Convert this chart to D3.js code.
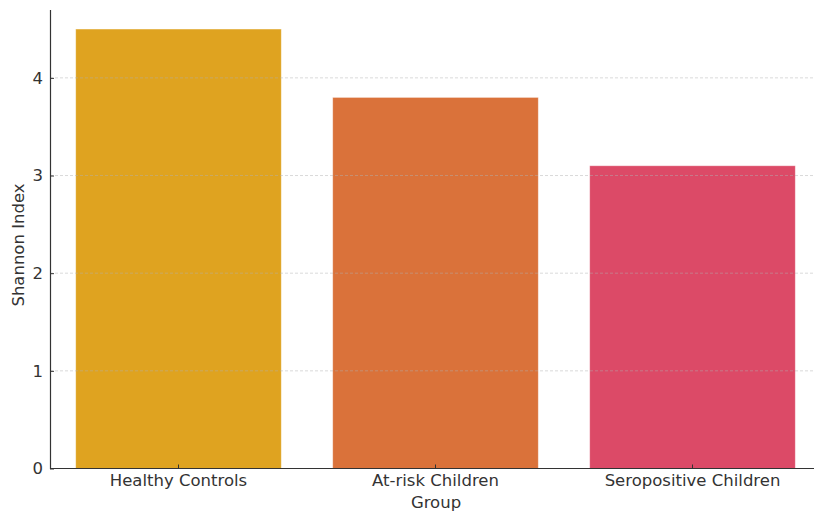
<!DOCTYPE html>
<html><head><meta charset="utf-8">
<script src="https://cdn.jsdelivr.net/npm/d3@7"></script>
<style>body{margin:0;background:#fff}svg{display:block}text{font-family:"DejaVu Sans",sans-serif;fill:#333}</style>
</head><body><svg id="c" width="814" height="512"></svg>
<script>
const categories = ["Healthy Controls", "At-risk Children", "Seropositive Children"];
const values = [4.5, 3.8, 3.1];
const colors = ["#DFA320", "#DA723A", "#DC4A67"];
const yTicks = [0, 1, 2, 3, 4];

(function(){
const svg = d3.select("#c");
const mLeft = 50, mRight = 821, mTop = 9.5, mBottom = 468.5;
const fs = 16.5;
const x = d3.scaleBand().domain(categories).range([mLeft, mRight]).paddingInner(0.2).paddingOuter(0.1);
const y = d3.scaleLinear().domain([0, 4.7]).range([mBottom, mTop]);

svg.selectAll("rect.bar").data(categories).enter().append("rect")
  .attr("class","bar")
  .attr("x", d => x(d)).attr("width", x.bandwidth())
  .attr("y", (d,i) => y(values[i])).attr("height", (d,i) => y(0) - y(values[i]))
  .attr("fill", (d,i) => colors[i])
  .attr("stroke", "rgba(255,255,255,0.5)").attr("stroke-width", 0.8);

svg.append("g").selectAll("line").data(yTicks.filter(t => t > 0)).enter().append("line")
  .attr("x1", mLeft).attr("x2", 814).attr("y1", d => y(d)).attr("y2", d => y(d))
  .attr("stroke", "#b0b0b0").attr("stroke-opacity", 0.6).attr("stroke-width", 0.8)
  .attr("stroke-dasharray", "3,2");

const yAxis = d3.axisLeft(y).tickValues(yTicks).tickFormat(d3.format("d")).tickSizeInner(-4).tickSizeOuter(0).tickPadding(10);
const gy = svg.append("g").attr("transform", `translate(${mLeft},0)`).call(yAxis);
gy.select(".domain").attr("stroke", "#333").attr("stroke-width", 1.2);
gy.selectAll(".tick line").attr("stroke", "#333");
gy.selectAll(".tick text").attr("font-size", fs).attr("fill", "#333").attr("x", -7);

const xAxis = d3.axisBottom(x).tickSizeInner(-4).tickSizeOuter(0).tickPadding(10);
const gx = svg.append("g").attr("transform", `translate(0,${mBottom})`).call(xAxis);
gx.select(".domain").attr("stroke", "#333").attr("stroke-width", 1.2).attr("d", `M${mLeft},0H814`);
gx.selectAll(".tick line").attr("stroke", "#333");
gx.selectAll(".tick text").attr("font-size", fs).attr("fill", "#333").attr("dy", "0.71em").attr("y", 6);

svg.append("text").attr("x", 436).attr("y", 508).attr("text-anchor", "middle").attr("font-size", fs).text("Group");
svg.append("text").attr("transform", "translate(24,245) rotate(-90)").attr("text-anchor", "middle").attr("font-size", fs).text("Shannon Index");
})();
</script></body></html>
